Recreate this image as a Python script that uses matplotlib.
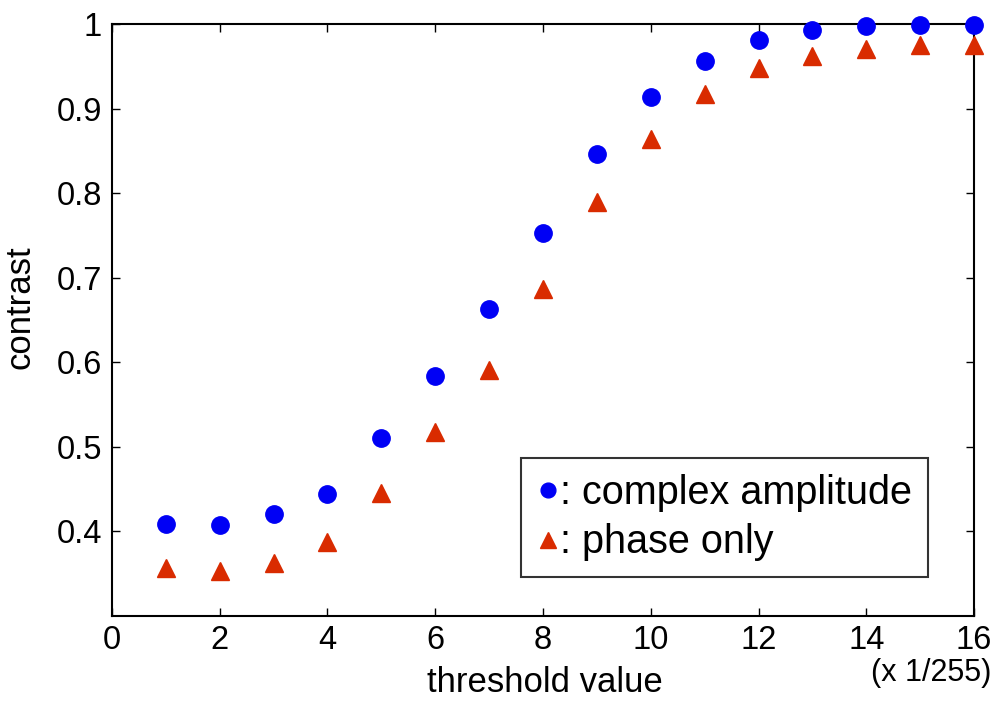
import matplotlib
matplotlib.use("Agg")
import matplotlib.pyplot as plt

plt.rcParams["font.family"] = ["Liberation Sans", "DejaVu Sans"]

# threshold values (x1/255)
threshold = [1, 2, 3, 4, 5, 6, 7, 8, 9, 10, 11, 12, 13, 14, 15, 16]

# contrast
complex_amp = [0.408, 0.407, 0.420, 0.444, 0.510, 0.584, 0.663, 0.753,
               0.847, 0.914, 0.957, 0.981, 0.993, 0.998, 0.999, 0.999]
phase_only = [0.357, 0.353, 0.362, 0.387, 0.445, 0.518, 0.591, 0.687,
              0.790, 0.864, 0.918, 0.948, 0.963, 0.971, 0.975, 0.975]

xticks = [0, 2, 4, 6, 8, 10, 12, 14, 16]
yticks = [0.4, 0.5, 0.6, 0.7, 0.8, 0.9, 1.0]
ytick_labels = ["0.4", "0.5", "0.6", "0.7", "0.8", "0.9", "1"]

fig, ax = plt.subplots(figsize=(9.96, 7.02), dpi=100)
fig.subplots_adjust(left=0.1124, right=0.978, top=0.9654, bottom=0.1229)

ax.plot(threshold, complex_amp, linestyle="none", marker="o", markersize=12.5,
        color="#0000F5", label=": complex amplitude", clip_on=False, zorder=3)
ax.plot(threshold, phase_only, linestyle="none", marker="^", markersize=13.5,
        color="#D92B00", label=": phase only", clip_on=False, zorder=3)

ax.set_xlim(0, 16)
ax.set_ylim(0.3, 1.0)
ax.set_xticks(xticks)
ax.set_yticks(yticks)
ax.set_yticklabels(ytick_labels)
ax.tick_params(direction="in", length=6, width=1, top=True, right=True,
               labelsize=23.5, pad=7)
for s in ax.spines.values():
    s.set_linewidth(1.5)

ax.set_xlabel("threshold value", fontsize=25)
ax.set_ylabel("contrast", fontsize=25)
ax.xaxis.set_label_coords(0.502, -0.085)
ax.yaxis.set_label_coords(-0.087, 0.522)

ax.text(1.0195, -0.097, "(x 1/255)", transform=ax.transAxes, fontsize=22,
        ha="right", va="center")

leg = ax.legend(loc="lower left", bbox_to_anchor=(0.474, 0.065), fontsize=28.5,
                frameon=True, fancybox=False, edgecolor="black",
                handlelength=0.6, handletextpad=0.0, borderpad=0.4,
                labelspacing=0.3, borderaxespad=0, markerscale=0.85)
leg.get_frame().set_linewidth(1.5)

fig.savefig("out.png")
